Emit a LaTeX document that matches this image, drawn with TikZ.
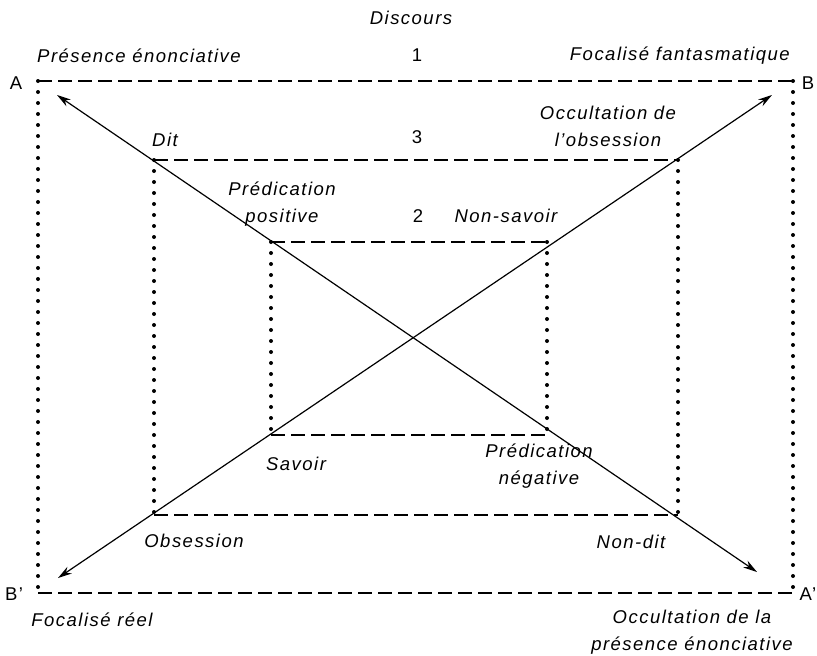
\documentclass[tikz,border=0pt]{standalone}
\usepackage{fontspec}
\setmainfont[LetterSpace=8]{Liberation Sans}
\usetikzlibrary{arrows.meta}

\begin{document}
\begin{tikzpicture}[
    x=1pt, y=-1pt,
    font=\fontsize{18.5}{27}\selectfont\itshape,
    t/.style={inner sep=0pt, align=center},
    n/.style={inner sep=0pt, font=\fontsize{18.5}{27}\selectfont\upshape},
    dsh/.style={line width=2.8pt, dash pattern=on 14pt off 6pt},
    dts/.style={line width=4pt, line cap=round, dash pattern=on 0pt off 11pt},
    ar/.style={line width=1.2pt, {Stealth[length=14pt,width=8pt]}-{Stealth[length=14pt,width=8pt]}}
]
    \useasboundingbox (0,0) rectangle (817,656);

    % corners of the three squares
    \coordinate (A)  at ( 38,  81);
    \coordinate (B)  at (793,  81);
    \coordinate (Ap) at (793, 593);
    \coordinate (Bp) at ( 38, 593);
    \coordinate (m1) at (154, 160);
    \coordinate (m2) at (678, 160);
    \coordinate (m3) at (678, 515);
    \coordinate (m4) at (154, 515);
    \coordinate (i1) at (271, 242);
    \coordinate (i2) at (547, 242);
    \coordinate (i3) at (547, 435);
    \coordinate (i4) at (271, 435);

    % arrow ends
    \coordinate (a1) at ( 57,  95);
    \coordinate (a2) at (757, 572);
    \coordinate (b1) at (772,  95);
    \coordinate (b2) at ( 58, 578);

    \draw [dsh] (A) -- (B);
    \draw [dsh] (Bp) -- (Ap);
    \draw [dts] (A) -- (Bp);
    \draw [dts] (B) -- (Ap);

    \draw [dsh] (m1) -- (m2);
    \draw [dsh] (m4) -- (m3);
    \draw [dts] (m1) -- (m4);
    \draw [dts] (m2) -- (m3);

    \draw [dsh] (i1) -- (i2);
    \draw [dsh] (i4) -- (i3);
    \draw [dts] (i1) -- (i4);
    \draw [dts] (i2) -- (i3);

    \draw [ar] (a1) -- (a2);
    \draw [ar] (b2) -- (b1);

    % labels
    \node [t] (disc) at (411,  18) {Discours};
    \node [t, anchor=west] (pres) at ( 37,  56) {Présence énonciative};
    \node [n] (one)  at (417,  55) {1};
    \node [t, anchor=east] (fant) at (790,  56) {Focalisé fantasmatique};
    \node [n] (lA)   at ( 16,  83) {A};
    \node [n] (lB)   at (808,  83) {B};
    \node [n] (lBp)  at ( 14, 594) {B'};
    \node [n] (lAp)  at (808, 594) {A'};

    \node [t] (dit)  at (165, 140) {Dit};
    \node [n] (three) at (417, 137) {3};
    \node [t] (occ)  at (608, 126) {Occultation de\\l’obsession};

    \node [t] (ppos) at (282, 204) {Prédication\\positive};
    \node [n] (two)  at (418, 216) {2};
    \node [t] (nsav) at (506, 216) {Non-savoir};

    \node [t] (sav)  at (296, 464) {Savoir};
    \node [t] (pneg) at (539, 466) {Prédication\\négative};

    \node [t] (obs)  at (194, 541) {Obsession};
    \node [t] (ndit) at (631, 542) {Non-dit};

    \node [t] (freel) at (92, 620) {Focalisé réel};
    \node [t] (ocpr) at (692, 632) {Occultation de la\\présence énonciative};
\end{tikzpicture}
\end{document}
